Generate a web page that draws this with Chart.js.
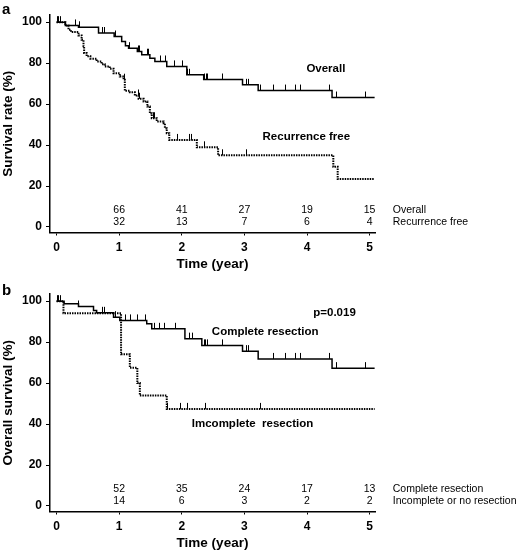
<!DOCTYPE html>
<html>
<head>
<meta charset="utf-8">
<script src="https://cdn.jsdelivr.net/npm/chart.js@4/dist/chart.umd.min.js"></script>
<style>
  body { margin: 0; background: #fff; }
  .panel { position: absolute; left: 0; width: 520px; height: 272px; }
</style>
</head>
<body>
<div class="panel" style="top:0"><canvas id="chartA"></canvas></div>
<div class="panel" style="top:279px"><canvas id="chartB"></canvas></div>
<script>
// axis ticks
const xTickValues = [0, 1, 2, 3, 4, 5];
const yTickValues = [0, 20, 40, 60, 80, 100];
const riskTimes = [1, 2, 3, 4, 5];

// panel a: overall survival
const overallTimes = [0, 0.14, 0.35, 0.67, 0.92, 1.04, 1.10, 1.15, 1.29, 1.36, 1.49, 1.57, 1.76, 2.08, 2.35, 2.97, 3.22, 4.40, 5.08];
const overallSurv = [100, 98.4, 97.5, 94.7, 93.0, 90.6, 88.5, 87.3, 85.7, 84.1, 82.4, 80.8, 78.4, 74.3, 72.0, 69.4, 66.6, 63.2, 63.2];
const overallCensored = [0.01, 0.03, 0.05, 0.29, 0.36, 0.72, 0.75, 0.93, 1.16, 1.30, 1.32, 1.44, 1.46, 1.65, 1.73, 1.87, 2.00, 2.09, 2.11, 2.36, 2.38, 2.40, 2.64, 3.03, 3.05, 3.25, 3.46, 3.65, 3.81, 3.89, 4.35, 4.46, 4.93];

// panel a: recurrence free
const rfTimes = [0, 0.14, 0.19, 0.23, 0.35, 0.40, 0.43, 0.44, 0.48, 0.54, 0.64, 0.72, 0.77, 0.85, 0.91, 1.01, 1.07, 1.09, 1.17, 1.25, 1.31, 1.39, 1.45, 1.49, 1.52, 1.60, 1.71, 1.73, 1.76, 1.80, 2.24, 2.58, 4.42, 4.49, 5.08];
const rfSurv = [100, 98.4, 96.3, 95.2, 93.5, 91.4, 88.2, 84.9, 83.3, 82.1, 80.8, 79.5, 78.4, 77.3, 75.1, 73.5, 71.9, 66.5, 65.8, 64.2, 62.6, 61.3, 58.8, 55.5, 53.1, 51.5, 50.7, 48.2, 45.8, 42.5, 38.9, 35.0, 29.4, 23.4, 23.4];
const rfCensored = [1.08, 1.30, 1.32, 1.54, 1.56, 1.92, 2.11, 2.15, 2.35, 2.64, 3.03];

const riskOverall = [66, 41, 27, 19, 15];
const riskRecurrenceFree = [32, 13, 7, 6, 4];

// panel b: complete resection
const completeTimes = [0, 0.12, 0.35, 0.59, 0.64, 0.91, 1.01, 1.44, 1.52, 2.05, 2.32, 2.97, 3.22, 4.40, 5.08];
const completeSurv = [100, 98.8, 97.4, 95.4, 94.3, 92.2, 90.6, 89.0, 86.5, 81.7, 78.4, 75.6, 71.8, 67.3, 67.3];
const completeCensored = [0.01, 0.03, 0.05, 0.35, 0.72, 0.75, 0.93, 1.09, 1.17, 1.28, 1.41, 1.55, 1.63, 1.71, 1.89, 2.11, 2.16, 2.35, 2.37, 2.40, 2.64, 3.03, 3.05, 3.46, 3.65, 3.81, 3.89, 4.35, 4.46, 4.92];

// panel b: incomplete or no resection
const incompleteTimes = [0, 0.11, 1.03, 1.17, 1.29, 1.33, 1.76, 5.08];
const incompleteSurv = [100, 94.1, 74.1, 67.5, 60.0, 54.0, 47.4, 47.4];
const incompleteCensored = [1.77, 1.97, 2.08, 2.37, 3.25];

const riskComplete = [52, 35, 24, 17, 13];
const riskIncomplete = [14, 6, 3, 2, 2];

const FONT = "'Liberation Sans', Arial, Helvetica, sans-serif";

function toPoints(times, surv) {
  return times.map((t, i) => ({ x: t, y: surv[i] }));
}

function survAt(times, surv, t) {
  let s = surv[0];
  for (let i = 0; i < times.length; i++) {
    if (times[i] <= t) s = surv[i];
  }
  return s;
}

function kmDataset(times, surv, dotted) {
  return {
    data: toPoints(times, surv),
    stepped: "before",
    borderColor: "#000",
    borderWidth: dotted ? 2 : 1.5,
    borderDash: dotted ? [1.5, 1] : [],
    pointRadius: 0,
    fill: false
  };
}

// censor marks, curve labels, number-at-risk rows
const kmExtras = {
  id: "kmExtras",
  afterDraw(chart, args, opts) {
    const { ctx, scales: { x, y } } = chart;
    ctx.save();
    ctx.strokeStyle = "#000";
    ctx.lineWidth = 1;
    opts.curves.forEach(c => {
      c.censored.forEach(t => {
        const px = Math.round(x.getPixelForValue(t)) + 0.5;
        const py = y.getPixelForValue(survAt(c.times, c.surv, t));
        ctx.beginPath();
        ctx.moveTo(px, py);
        ctx.lineTo(px, py - 6);
        ctx.stroke();
      });
    });

    ctx.fillStyle = "#000";
    ctx.textBaseline = "middle";
    ctx.textAlign = "left";
    ctx.font = "bold 11.5px " + FONT;
    opts.labels.forEach(l => {
      ctx.fillText(l.text, x.getPixelForValue(l.t), y.getPixelForValue(l.s));
    });

    ctx.font = "10.5px " + FONT;
    opts.risk.forEach(r => {
      const py = y.getPixelForValue(r.s);
      ctx.textAlign = "center";
      r.values.forEach((v, i) => ctx.fillText(String(v), x.getPixelForValue(riskTimes[i]), py));
      ctx.textAlign = "left";
      ctx.fillText(r.label, x.getPixelForValue(5.37), py);
    });

    ctx.font = "bold 15px " + FONT;
    ctx.textAlign = "left";
    ctx.fillText(opts.letter, 2, opts.letterY);
    ctx.restore();
  }
};

function makeOptions(yTitle, extras) {
  return {
    responsive: true,
    maintainAspectRatio: false,
    animation: false,
    layout: { padding: { left: 0, right: 145, top: 15, bottom: 0 } },
    plugins: { legend: { display: false }, tooltip: { enabled: false }, kmExtras: extras },
    scales: {
      x: {
        type: "linear",
        min: -0.105,
        max: 5.086,
        afterBuildTicks: s => { s.ticks = xTickValues.map(v => ({ value: v })); },
        afterFit: s => { s.height = 39.5; },
        grid: { drawOnChartArea: false, tickLength: 3, color: "#000", lineWidth: 1 },
        border: { color: "#000", width: 1.5 },
        ticks: { color: "#000", padding: 5, maxRotation: 0, font: { family: FONT, size: 12, weight: "bold" } },
        title: { display: true, text: "Time (year)", color: "#000", padding: 0, font: { family: FONT, size: 13.5, weight: "bold" } }
      },
      y: {
        min: -2.7,
        max: 103.5,
        afterBuildTicks: s => { s.ticks = yTickValues.map(v => ({ value: v })); },
        afterFit: s => { s.width = 50; },
        grid: { drawOnChartArea: false, tickLength: 4, color: "#000", lineWidth: 1 },
        border: { color: "#000", width: 1.5 },
        ticks: { color: "#000", padding: 4, font: { family: FONT, size: 12, weight: "bold" } },
        title: { display: true, text: yTitle, color: "#000", padding: 0, font: { family: FONT, size: 13.5, weight: "bold" } }
      }
    }
  };
}

new Chart(document.getElementById("chartA"), {
  type: "line",
  data: {
    datasets: [
      kmDataset(overallTimes, overallSurv, false),
      kmDataset(rfTimes, rfSurv, true)
    ]
  },
  options: makeOptions("Survival rate (%)", {
    letter: "a",
    letterY: 10,
    curves: [
      { times: overallTimes, surv: overallSurv, censored: overallCensored },
      { times: rfTimes, surv: rfSurv, censored: rfCensored }
    ],
    labels: [
      { text: "Overall", t: 3.99, s: 77.4 },
      { text: "Recurrence free", t: 3.29, s: 44.1 }
    ],
    risk: [
      { values: riskOverall, label: "Overall", s: 8.3 },
      { values: riskRecurrenceFree, label: "Recurrence free", s: 2.4 }
    ]
  }),
  plugins: [kmExtras]
});

new Chart(document.getElementById("chartB"), {
  type: "line",
  data: {
    datasets: [
      kmDataset(completeTimes, completeSurv, false),
      kmDataset(incompleteTimes, incompleteSurv, true)
    ]
  },
  options: makeOptions("Overall survival (%)", {
    letter: "b",
    letterY: 12,
    curves: [
      { times: completeTimes, surv: completeSurv, censored: completeCensored },
      { times: incompleteTimes, surv: incompleteSurv, censored: incompleteCensored }
    ],
    labels: [
      { text: "p=0.019", t: 4.10, s: 94.5 },
      { text: "Complete resection", t: 2.48, s: 85.2 },
      { text: "Imcomplete  resection", t: 2.16, s: 39.9 }
    ],
    risk: [
      { values: riskComplete, label: "Complete resection", s: 8.1 },
      { values: riskIncomplete, label: "Incomplete or no resection", s: 2.4 }
    ]
  }),
  plugins: [kmExtras]
});
</script>
</body>
</html>
